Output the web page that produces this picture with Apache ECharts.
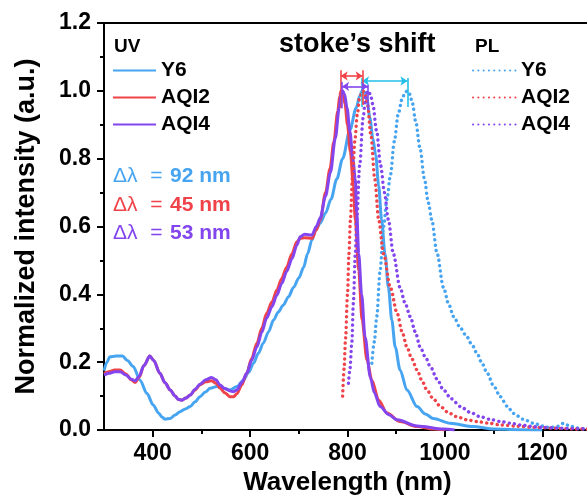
<!DOCTYPE html>
<html>
<head>
<meta charset="utf-8">
<script src="https://cdn.jsdelivr.net/npm/echarts@6/dist/echarts.min.js"></script>
<style>
html,body{margin:0;padding:0;background:#fff;}
#chart{width:587px;height:498px;}
</style>
</head>
<body>
<div id="chart"></div>
<script>
// ---- data ----
const xMajorTicks = [400, 600, 800, 1000, 1200];
const xMinorTicks = [500, 700, 900, 1100];

const y6UvWl  = [300,306,312,325,338,348,360,374,388,401,412,419,425,436,446,456,467,477,487,497,508,518,532,545,559,573,586,597,607,617,627,638,648,658,668,679,689,700,710,718,727,735,744,755,766,778,790,805,818,825,830,836,840,846,852,858,864,870,877,884,891,898,908,922,943,960,976,1011,1058,1100,1150,1200];
const y6UvVal = [0.175,0.2,0.216,0.218,0.218,0.205,0.187,0.147,0.108,0.074,0.05,0.038,0.032,0.034,0.044,0.054,0.062,0.069,0.083,0.098,0.112,0.123,0.128,0.123,0.118,0.128,0.147,0.17,0.197,0.226,0.256,0.29,0.324,0.348,0.368,0.393,0.42,0.448,0.48,0.52,0.56,0.59,0.61,0.64,0.68,0.74,0.8,0.885,0.95,0.985,1.0,0.995,0.975,0.92,0.86,0.81,0.72,0.62,0.52,0.42,0.324,0.245,0.177,0.118,0.069,0.047,0.034,0.02,0.01,0.003,0.001,0];

const aqi2UvWl  = [300,310,322,333,345,356,364,372,382,394,402,415,425,436,446,453,460,468,477,487,497,509,521,530,538,548,559,566,573,583,593,603,614,624,634,645,655,665,675,686,696,703,712,727,736,744,755,764,772,780,784,787,791,795,800,806,812,816,823,830,840,850,864,881,908,943,976,1000];
const aqi2UvVal = [0.167,0.172,0.177,0.177,0.165,0.148,0.14,0.155,0.19,0.218,0.205,0.167,0.14,0.118,0.1,0.09,0.088,0.094,0.103,0.118,0.133,0.142,0.145,0.138,0.124,0.11,0.098,0.098,0.107,0.133,0.167,0.21,0.256,0.3,0.344,0.378,0.413,0.447,0.48,0.52,0.555,0.565,0.567,0.565,0.59,0.62,0.7,0.77,0.85,0.94,0.985,1.0,0.99,0.96,0.9,0.82,0.72,0.62,0.47,0.324,0.206,0.147,0.088,0.05,0.025,0.01,0.003,0];

const aqi4UvWl  = [300,310,322,333,345,356,364,372,382,394,402,415,425,436,446,453,460,468,477,487,497,509,521,530,538,548,559,566,573,583,593,603,614,624,634,645,655,665,675,686,696,703,712,727,736,744,755,765,775,783,787,790,794,799,805,811,816,819,823,829,836,847,855,867,885,902,943,997,1020];
const aqi4UvVal = [0.162,0.167,0.172,0.172,0.162,0.15,0.145,0.158,0.19,0.218,0.205,0.167,0.14,0.118,0.1,0.09,0.088,0.094,0.103,0.12,0.135,0.148,0.155,0.148,0.133,0.122,0.115,0.113,0.118,0.14,0.167,0.205,0.245,0.288,0.33,0.364,0.398,0.432,0.467,0.505,0.545,0.57,0.577,0.575,0.6,0.625,0.69,0.76,0.86,0.95,0.99,1.0,0.99,0.95,0.88,0.8,0.74,0.64,0.52,0.4,0.275,0.155,0.11,0.069,0.045,0.03,0.012,0.003,0];

const y6PlWl  = [850,855,860,867,874,881,888,896,904,912,918,923,928,933,940,949,958,966,973,984,997,1008,1018,1032,1045,1056,1066,1076,1087,1100,1114,1128,1141,1160,1182,1200,1215,1230,1244,1256,1271,1290,1300];
const y6PlVal = [0.197,0.26,0.334,0.47,0.6,0.68,0.75,0.85,0.93,0.975,0.995,1.0,0.99,0.965,0.91,0.83,0.74,0.67,0.62,0.52,0.42,0.37,0.334,0.3,0.275,0.25,0.226,0.197,0.167,0.13,0.098,0.07,0.049,0.032,0.02,0.012,0.007,0.01,0.02,0.012,0.006,0.003,0.002];

const aqi2PlWl  = [790,793,796,800,803,806,810,815,820,825,831,836,841,848,856,864,874,888,902,912,922,932,943,953,963,977,991,1008,1025,1045,1066,1090,1114,1150,1182,1230,1270,1300];
const aqi2PlVal = [0.1,0.18,0.27,0.4,0.52,0.62,0.74,0.85,0.93,0.98,1.0,0.99,0.96,0.87,0.74,0.62,0.52,0.42,0.344,0.29,0.245,0.21,0.177,0.145,0.118,0.09,0.069,0.05,0.039,0.03,0.025,0.02,0.015,0.011,0.008,0.005,0.003,0.002];

const aqi4PlWl  = [802,805,809,812,816,819,825,832,837,842,847,852,860,868,876,884,894,908,918,929,939,949,960,970,984,997,1013,1032,1052,1073,1094,1114,1135,1155,1175,1196,1240,1300];
const aqi4PlVal = [0.138,0.18,0.26,0.373,0.52,0.62,0.78,0.92,0.98,1.0,0.99,0.96,0.88,0.78,0.7,0.62,0.52,0.42,0.375,0.334,0.29,0.245,0.215,0.187,0.15,0.118,0.092,0.069,0.052,0.039,0.031,0.025,0.02,0.015,0.011,0.008,0.005,0.003];

// Stokes-shift markers: UV peak -> PL peak (Y6, AQI2, AQI4)
const shiftUvPeak = [830, 786, 789];
const shiftPlPeak = [923, 831, 842];
const shiftArrowY = [1.029, 1.044, 1.013];
const shiftBarLow  = [[0.952, 0.952], [0.949, 0.958], [0.949, 0.943]];
const shiftBarHigh = [[1.038, 1.038], [1.061, 1.061], [1.026, 1.017]];
const shiftValues = ['92 nm', '45 nm', '53 nm'];

// ---- styling ----
const C_Y6 = '#47a4f1', C_A2 = '#ef4349', C_A4 = '#8345ee', C_CYAN = '#23bfe8';
const FONT = '"Liberation Sans", Arial, Helvetica, sans-serif';
const zip = (xs, ys) => xs.map((x, i) => [x, ys[i]]);

function shiftMarks(i, color) {
  const lo = shiftBarLow[i], hi = shiftBarHigh[i];
  return {
    silent: true,
    animation: false,
    label: { show: false },
    emphasis: { disabled: true },
    lineStyle: { color: color, width: 1.6, type: 'solid' },
    data: [
      [{ coord: [shiftUvPeak[i], shiftArrowY[i]], symbol: 'arrow', symbolSize: 7 },
       { coord: [shiftPlPeak[i], shiftArrowY[i]], symbol: 'arrow', symbolSize: 7 }],
      [{ coord: [shiftUvPeak[i], lo[0]], symbol: 'none' }, { coord: [shiftUvPeak[i], hi[0]], symbol: 'none' }],
      [{ coord: [shiftPlPeak[i], lo[1]], symbol: 'none' }, { coord: [shiftPlPeak[i], hi[1]], symbol: 'none' }]
    ]
  };
}

const dotted = (c) => ({ color: c, width: 3.4, type: [0.1, 5.2], cap: 'round' });
const solid = (c) => ({ color: c, width: 3 });

function lineSeries(name, data, color, style, marks) {
  const s = {
    name: name, type: 'line', data: data, xAxisIndex: 0, yAxisIndex: 0,
    showSymbol: false, symbol: 'none', smooth: 0.3, smoothMonotone: 'x',
    lineStyle: style, itemStyle: { color: color }, emphasis: { disabled: true },
    animation: false
  };
  if (marks) s.markLine = marks;
  return s;
}

const deltaTitle = (i, color, top) => ({
  left: 113, top: top, padding: 0,
  text: '{d|Δλ}{e|=}{v|' + shiftValues[i] + '}',
  textStyle: {
    rich: {
      d: { fontFamily: FONT, fontSize: 21, fontWeight: 'normal', color: color, width: 30 },
      e: { fontFamily: FONT, fontSize: 21, fontWeight: 'normal', color: color, width: 27, align: 'center' },
      v: { fontFamily: FONT, fontSize: 21, fontWeight: 'bold', color: color }
    }
  }
});

const legendBase = {
  orient: 'vertical', top: 60, padding: 0, itemGap: 6,
  itemWidth: 43, itemHeight: 14,
  itemStyle: { opacity: 0 },
  textStyle: { fontFamily: FONT, fontSize: 21, fontWeight: 'bold', color: '#000', lineHeight: 21 }
};

const chart = echarts.init(document.getElementById('chart'), null, { renderer: 'canvas' });
chart.setOption({
  animation: false,
  backgroundColor: '#fff',
  title: [
    { text: 'stoke’s shift', left: 279, top: 31, padding: 0,
      textStyle: { fontFamily: FONT, fontSize: 27, fontWeight: 'bold', color: '#000' } },
    { text: 'UV', left: 114, top: 37, padding: 0,
      textStyle: { fontFamily: FONT, fontSize: 19, fontWeight: 'bold', color: '#000' } },
    { text: 'PL', left: 475, top: 37, padding: 0,
      textStyle: { fontFamily: FONT, fontSize: 19, fontWeight: 'bold', color: '#000' } },
    deltaTitle(0, C_Y6, 166),
    deltaTitle(1, C_A2, 195),
    deltaTitle(2, C_A4, 223)
  ],
  legend: [
    Object.assign({}, legendBase, {
      left: 112,
      data: ['Y6 (UV)', 'AQI2 (UV)', 'AQI4 (UV)'],
      formatter: (n) => n.replace(' (UV)', '') }),
    Object.assign({}, legendBase, {
      left: 472,
      data: ['Y6 (PL)', 'AQI2 (PL)', 'AQI4 (PL)'],
      formatter: (n) => n.replace(' (PL)', '') })
  ],
  grid: { left: 104, right: -4, top: 23, bottom: 68, containLabel: false, outerBoundsMode: 'none' },
  xAxis: [
    { type: 'value', min: 300, max: 1300, position: 'bottom',
      name: 'Wavelength (nm)', nameLocation: 'middle', nameGap: 40,
      nameTextStyle: { fontFamily: FONT, fontSize: 26, fontWeight: 'bold', color: '#000' },
      axisLine: { show: true, onZero: false, lineStyle: { color: '#000', width: 2 } },
      axisTick: { show: true, customValues: xMajorTicks, length: 7, lineStyle: { color: '#000', width: 2 } },
      axisLabel: { show: true, customValues: xMajorTicks, margin: 12,
        formatter: (v) => String(v),
        fontFamily: FONT, fontSize: 23, fontWeight: 'bold', color: '#000' },
      splitLine: { show: false } },
    { type: 'value', min: 300, max: 1300, position: 'bottom',
      axisLine: { show: false },
      axisTick: { show: true, customValues: xMinorTicks, length: 4, lineStyle: { color: '#000', width: 2 } },
      axisLabel: { show: false }, splitLine: { show: false } },
    { type: 'value', min: 300, max: 1300, position: 'top',
      axisLine: { show: true, onZero: false, lineStyle: { color: '#000', width: 2 } },
      axisTick: { show: false }, axisLabel: { show: false }, splitLine: { show: false } }
  ],
  yAxis: [
    { type: 'value', min: 0, max: 1.2, interval: 0.2,
      name: 'Normalized intensity (a.u.)', nameLocation: 'middle', nameGap: 64,
      nameTextStyle: { fontFamily: FONT, fontSize: 27, fontWeight: 'bold', color: '#000' },
      axisLine: { show: true, onZero: false, lineStyle: { color: '#000', width: 2 } },
      axisTick: { show: true, length: 7, lineStyle: { color: '#000', width: 2 } },
      minorTick: { show: true, splitNumber: 2, length: 4, lineStyle: { color: '#000', width: 2 } },
      axisLabel: { margin: 13, formatter: (v) => v.toFixed(1),
        fontFamily: FONT, fontSize: 23, fontWeight: 'bold', color: '#000' },
      splitLine: { show: false }, minorSplitLine: { show: false } }
  ],
  series: [
    lineSeries('Y6 (UV)', zip(y6UvWl, y6UvVal), C_Y6, solid(C_Y6)),
    lineSeries('AQI2 (UV)', zip(aqi2UvWl, aqi2UvVal), C_A2, solid(C_A2)),
    lineSeries('AQI4 (UV)', zip(aqi4UvWl, aqi4UvVal), C_A4, solid(C_A4)),
    lineSeries('Y6 (PL)', zip(y6PlWl, y6PlVal), C_Y6, dotted(C_Y6), shiftMarks(0, C_CYAN)),
    lineSeries('AQI2 (PL)', zip(aqi2PlWl, aqi2PlVal), C_A2, dotted(C_A2), shiftMarks(1, C_A2)),
    lineSeries('AQI4 (PL)', zip(aqi4PlWl, aqi4PlVal), C_A4, dotted(C_A4), shiftMarks(2, C_A4))
  ]
});
</script>
</body>
</html>
